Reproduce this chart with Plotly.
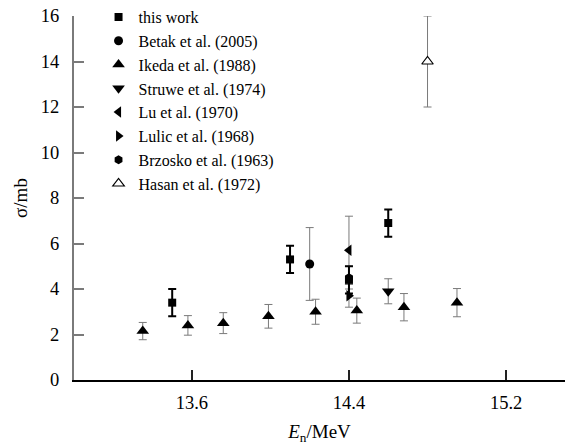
import plotly.graph_objects as go

# ---- data ----
this_x = [13.5, 14.1, 14.4, 14.6]
this_y = [3.4, 5.3, 4.4, 6.9]
this_err = [0.6, 0.6, 0.6, 0.6]

betak_x = [14.2]
betak_y = [5.1]
betak_err = [1.6]

ikeda_x = [13.35, 13.58, 13.76, 13.99, 14.23, 14.44, 14.68, 14.95]
ikeda_y = [2.15, 2.4, 2.5, 2.8, 3.0, 3.05, 3.2, 3.4]
ikeda_err = [0.38, 0.43, 0.46, 0.52, 0.55, 0.55, 0.6, 0.62]

struwe_x = [14.6]
struwe_y = [3.9]
struwe_err = [0.55]

lu_x = [14.4]
lu_y = [5.7]
lu_err = [1.5]

lulic_x = [14.4]
lulic_y = [3.7]
lulic_err = [0.5]

brzosko_x = [14.4]
brzosko_y = [4.5]
brzosko_err = [0.5]

hasan_x = [14.8]
hasan_y = [14.0]
hasan_err = [2.0]

x_ticks = [13.6, 14.4, 15.2]
y_ticks = [0, 2, 4, 6, 8, 10, 12, 14, 16]

FONT = "Liberation Serif"
GREY = "#7a7a7a"

fig = go.Figure()

def add(name, xs, ys, errs, symbol, size, err_color=GREY, err_w=1, fill="black"):
    fig.add_trace(go.Scatter(
        x=xs, y=ys, mode="markers", name=name, legendgroup=name,
        marker=dict(symbol=symbol, size=size, color=fill,
                    line=dict(color="black", width=1.2 if fill == "white" else 0)),
        error_y=dict(type="data", array=errs, visible=True, color=err_color,
                     thickness=err_w, width=4),
    ))

add("Hasan et al. (1972)", hasan_x, hasan_y, hasan_err, "triangle-up", 10, fill="white")
add("Lu et al. (1970)", lu_x, lu_y, lu_err, "triangle-left", 10)
add("Betak et al. (2005)", betak_x, betak_y, betak_err, "circle", 9)
add("Ikeda et al. (1988)", ikeda_x, ikeda_y, ikeda_err, "triangle-up", 11)
add("Struwe et al. (1974)", struwe_x, struwe_y, struwe_err, "triangle-down", 11)
add("Lulic et al. (1968)", lulic_x, lulic_y, lulic_err, "triangle-right", 10)
add("Brzosko et al. (1963)", brzosko_x, brzosko_y, brzosko_err, "hexagon", 9)
add("this work", this_x, this_y, this_err, "square", 8, err_color="black", err_w=2)

# legend order as in the reference
order = ["this work", "Betak et al. (2005)", "Ikeda et al. (1988)", "Struwe et al. (1974)",
         "Lu et al. (1970)", "Lulic et al. (1968)", "Brzosko et al. (1963)", "Hasan et al. (1972)"]
for tr in fig.data:
    tr.legendrank = order.index(tr.name) + 1

fig.update_layout(
    width=565, height=445,
    margin=dict(l=74, r=0, t=15, b=65),
    paper_bgcolor="white", plot_bgcolor="white",
    font=dict(family=FONT, size=18, color="black"),
    showlegend=True,
    legend=dict(x=0.05, y=1.045, xanchor="left", yanchor="top",
                font=dict(family=FONT, size=16, color="black"),
                bgcolor="rgba(0,0,0,0)", tracegroupgap=0,
                itemclick=False),
    xaxis=dict(range=[13.0, 15.5], tickvals=x_ticks, ticktext=[f"{v:.1f}" for v in x_ticks],
               ticks="inside", ticklen=10, tickwidth=1.5, tickcolor="#222",
               showline=True, linecolor="black", linewidth=1.5, automargin=False,
               showgrid=False, zeroline=False, ticklabelstandoff=5,
               tickfont=dict(family=FONT, size=18.5),
               title=dict(text="<i>E</i><sub>n</sub>/MeV", font=dict(family=FONT, size=19),
                          standoff=15)),
    yaxis=dict(range=[0, 16], tickvals=y_ticks, ticks="inside", ticklen=10, tickwidth=1.5,
               tickcolor=GREY, showline=True, linecolor=GREY, linewidth=2, automargin=False,
               showgrid=False, zeroline=False, ticklabelstandoff=9,
               tickfont=dict(family=FONT, size=18.5),
               title=dict(text="σ/mb", font=dict(family=FONT, size=19), standoff=8)),
)

fig.write_html("out.html", config={"displayModeBar": False},
               post_script="document.body.style.margin='0';document.body.style.padding='0';")
